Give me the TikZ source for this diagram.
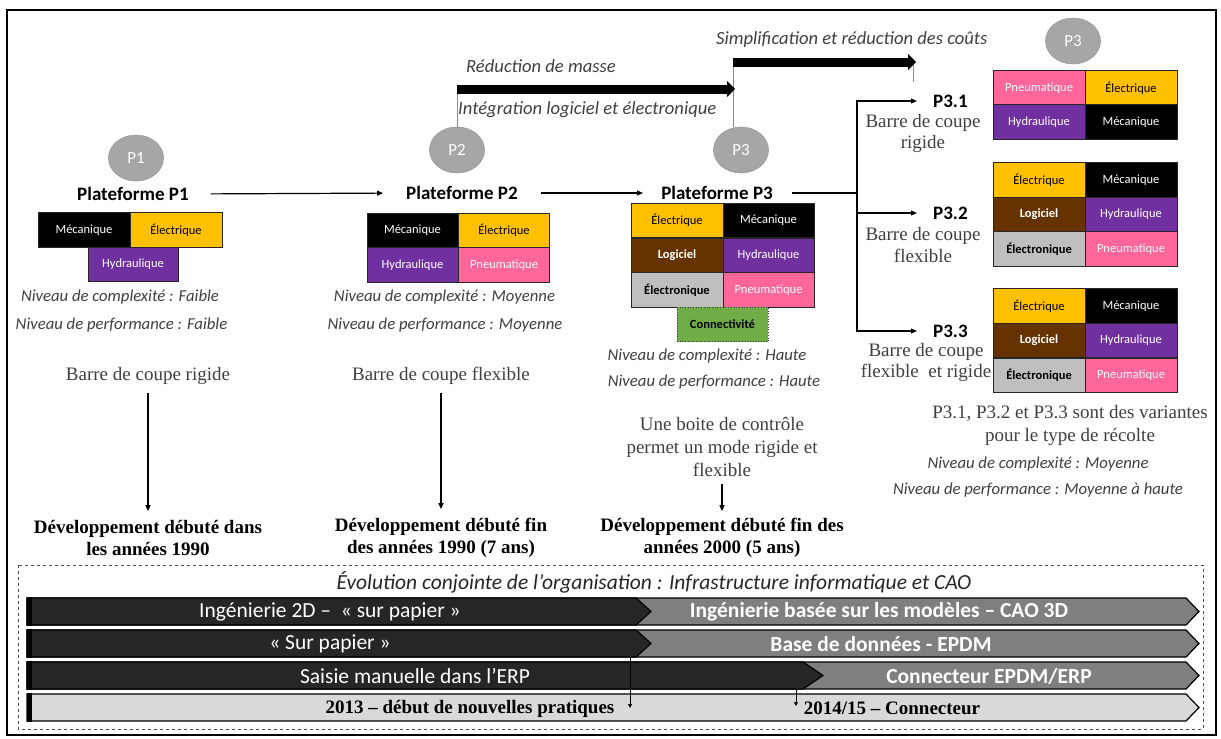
\documentclass[tikz,border=0pt]{standalone}
\usepackage{fontspec}
\setmainfont{Liberation Serif}
\newfontfamily\calib{Carlito}
\usetikzlibrary{arrows.meta,shapes.geometric}
\definecolor{elec}{HTML}{FFC000}
\definecolor{hydr}{HTML}{7030A0}
\definecolor{pneu}{HTML}{FF6699}
\definecolor{logi}{HTML}{663300}
\definecolor{elon}{HTML}{BFBFBF}
\definecolor{conn}{HTML}{70AD47}
\definecolor{ell}{HTML}{A6A6A6}
\definecolor{txtg}{HTML}{404040}
\definecolor{bardark}{HTML}{262626}
\definecolor{bargray}{HTML}{7F7F7F}
\definecolor{barlight}{HTML}{D9D9D9}
\newcommand\fs[2]{\fontsize{#1}{#2}\selectfont}
\begin{document}
\begin{tikzpicture}[x=1pt,y=-1pt,
  cell/.style={draw=black!85,line width=0.7pt,minimum width=92pt,minimum height=34.5pt,inner sep=0pt,font=\calib\fs{12.5}{15}},
  mec/.style={cell,fill=black,text=white},
  ele/.style={cell,fill=elec,text=black},
  hyd/.style={cell,fill=hydr,text=white},
  pne/.style={cell,fill=pneu,text=white},
  lgc/.style={cell,fill=logi,text=white,font=\calib\bfseries\fs{12.5}{15}},
  elo/.style={cell,fill=elon,text=black,font=\calib\bfseries\fs{12.5}{15}},
  cnx/.style={cell,fill=conn,draw=black!80,dotted,line width=1pt,text=black,font=\calib\bfseries\fs{12.5}{15}},
  pell/.style={ellipse,fill=ell,draw=black!40,line width=0.6pt,minimum width=55pt,minimum height=46pt,inner sep=0pt,text=white,font=\calib\fs{17}{20}},
  plat/.style={inner sep=0pt,font=\calib\bfseries\fs{19}{22}},
  niv/.style={inner sep=0pt,text=txtg,font=\calib\itshape\fs{16.7}{19}},
  rom/.style={inner sep=0pt,text=txtg,align=center,font=\fs{19}{21.5}},
  rom23/.style={inner sep=0pt,text=txtg,align=center,font=\fs{19}{23}},
  dev/.style={inner sep=0pt,align=center,font=\bfseries\fs{19}{22}},
  arr/.style={line width=1.2pt,-{Triangle[length=6pt,width=5pt]}},
  fatarrow/.style={line width=9pt,-{Triangle[length=8pt,width=16pt]}},
  guide/.style={draw=black!45,line width=0.8pt},
  lab/.style={inner sep=0pt,anchor=west,text=txtg,font=\calib\itshape\fs{18.6}{21}},
  bartxt/.style={inner sep=0pt,text=white,font=\calib\fs{21.5}{24}},
  bartxtb/.style={inner sep=0pt,text=white,font=\calib\bfseries\fs{21.5}{24}},
  bar4txt/.style={inner sep=0pt,text=black,font=\bfseries\fs{19}{22}},
  barline/.style={draw=black,line width=1.2pt}
]
\useasboundingbox (0,0) rectangle (1221,739);
\fill[white] (0,0) rectangle (1221,739);
\draw[line width=1.6pt] (7,10) rectangle (1216,735);

% ---------- top thick arrows ----------
\coordinate (ta1) at (457,89);
\coordinate (ta2) at (735,89);
\coordinate (tb1) at (733,62);
\coordinate (tb2) at (916,62);
\coordinate (tc) at (913,82);
\coordinate (tcb) at (913,62);
\node[lab] (lred) at (466,66) {Réduction de masse};
\node[lab] (lint) at (458,110) {Intégration logiciel et électronique};
\node[lab] (lsim) at (716,40) {Simplification et réduction des coûts};

% ---------- ellipses ----------
\node[pell] (e1) at (136,158) {P1};
\node[pell] (e2) at (457,150) {P2};
\node[pell] (e3) at (741,150) {P3};
\node[pell] (e4) at (1073,41) {P3};

\draw[guide] (e2.north) -- (ta1);
\draw[guide] (tb1 |- e3.north) -- (tb1);
\draw[guide] (tcb) -- (tc);
\draw[fatarrow] (ta1) -- (ta2);
\draw[fatarrow] (tb1) -- (tb2);

% ---------- platforms ----------
\node[plat] (pf1) at (133,194) {Plateforme P1};
\node[plat] (pf2) at (462,193) {Plateforme P2};
\node[plat] (pf3) at (717,193) {Plateforme P3};
\draw[arr,shorten <=22pt,shorten >=23pt] (pf1.east) -- (pf2.west);
\draw[arr,shorten <=23pt,shorten >=18pt] (pf2.east) -- (pf3.west);

% P1 cells
\node[mec] (c11) at (84,230) {Mécanique};
\node[ele] (c12) at (176,230) {Électrique};
\node[hyd,minimum width=90pt] (c13) at (133,264.5) {Hydraulique};
% P2 cells
\node[mec,minimum width=91pt] (c21) at (412.5,230.5) {Mécanique};
\node[ele,minimum width=91pt] (c22) at (504,230.5) {Électrique};
\node[hyd,minimum width=91pt] (c23) at (412.5,265) {Hydraulique};
\node[pne,minimum width=91pt] (c24) at (504,265) {Pneumatique};
% P3 cells
\node[ele] (c31) at (677,220.5) {Électrique};
\node[mec,minimum width=91pt] (c32) at (768.5,220.5) {Mécanique};
\node[lgc] (c33) at (677,255.5) {Logiciel};
\node[hyd,minimum width=91pt] (c34) at (768.5,255.5) {Hydraulique};
\node[elo] (c35) at (677,290) {Électronique};
\node[pne,minimum width=91pt] (c36) at (768.5,290) {Pneumatique};
\node[cnx,minimum width=91pt] (c37) at (722.5,324.5) {Connectivité};

% Niveau texts
\node[niv] (n11) at (120,297) {Niveau de complexité : Faible};
\node[niv] (n12) at (121.5,325) {Niveau de performance : Faible};
\node[niv] (n21) at (444.5,297) {Niveau de complexité : Moyenne};
\node[niv] (n22) at (445,325) {Niveau de performance : Moyenne};
\node[niv] (n31) at (707,356) {Niveau de complexité : Haute};
\node[niv] (n32) at (714,382) {Niveau de performance : Haute};

% Barre texts and developments
\node[rom] (b1) at (148,376) {Barre de coupe rigide};
\node[rom] (b2) at (441,376) {Barre de coupe flexible};
\node[rom23] (b3) at (722,447) {Une boite de contrôle\\permet un mode rigide et\\flexible};
\node[dev] (d1) at (148,538) {Développement débuté dans\\les années 1990};
\node[dev] (d2) at (441,538) {Développement débuté fin\\des années 1990 (7 ans)};
\node[dev] (d3) at (722,538) {Développement débuté fin des\\années 2000 (5 ans)};
\draw[arr,shorten <=8pt,shorten >=9pt] (b1.south) -- (d1.north);
\draw[arr,shorten <=8pt,shorten >=9pt] (b2.south) -- (d2.north);
\draw[arr,shorten <=7pt,shorten >=7pt] (b3.south) -- (d3.north);

% ---------- P3 variants ----------
\node[plat,anchor=west] (p31) at (933,101) {P3.1};
\node[plat,anchor=west] (p32) at (933,213) {P3.2};
\node[plat,anchor=west] (p33) at (933,331) {P3.3};
\node[rom] (r31) at (923,133.5) {Barre de coupe\\rigide};
\node[rom] (r32) at (923,245) {Barre de coupe\\flexible};
\node[rom] (r33) at (926,362.5) {Barre de coupe\\flexible\ \ et rigide};
\coordinate (br) at (857,193);
\draw[line width=1.2pt,shorten <=19pt] (pf3.east) -- (br);
\draw[arr,shorten >=16pt] (br) |- (p31.west);
\draw[arr,shorten >=16pt] (br) |- (p32.west);
\draw[arr,shorten >=16pt] (br) |- (p33.west);

% right cells P3.1
\node[pne] (v11) at (1039,88) {Pneumatique};
\node[ele] (v12) at (1131,88) {Électrique};
\node[hyd] (v13) at (1039,122) {Hydraulique};
\node[mec] (v14) at (1131,122) {Mécanique};
% P3.2
\node[ele] (v21) at (1039,180) {Électrique};
\node[mec] (v22) at (1131,180) {Mécanique};
\node[lgc] (v23) at (1039,214.5) {Logiciel};
\node[hyd] (v24) at (1131,214.5) {Hydraulique};
\node[elo] (v25) at (1039,249) {Électronique};
\node[pne] (v26) at (1131,249) {Pneumatique};
% P3.3
\node[ele] (v31) at (1039,306) {Électrique};
\node[mec] (v32) at (1131,306) {Mécanique};
\node[lgc] (v33) at (1039,340.5) {Logiciel};
\node[hyd] (v34) at (1131,340.5) {Hydraulique};
\node[elo] (v35) at (1039,375.5) {Électronique};
\node[pne] (v36) at (1131,375.5) {Pneumatique};

\node[rom23] (var) at (1070,425.5) {P3.1, P3.2 et P3.3 sont des variantes\\pour le type de récolte};
\node[niv] (n41) at (1038,464) {Niveau de complexité : Moyenne};
\node[niv] (n42) at (1038,490) {Niveau de performance : Moyenne à haute};

% ---------- bottom evolution box ----------
\draw[dashed,draw=black!70,line width=0.8pt] (18,565) rectangle (1203,729);
\node[inner sep=0pt,text=black!85,font=\calib\itshape\fs{21.5}{24}] (evo) at (654,582) {Évolution conjointe de l’organisation : Infrastructure informatique et CAO};

% bar 1
\filldraw[fill=bargray,barline] (27,598) -- (1186,598) -- (1199,611.5) -- (1186,625) -- (27,625) -- cycle;
\filldraw[fill=bardark,barline] (27,598) -- (636,598) -- (651,611.5) -- (636,625) -- (27,625) -- cycle;
\fill[black] (27,597.4) rectangle (32,625.6);
% bar 2
\filldraw[fill=bargray,barline] (27,630) -- (1186,630) -- (1199,643.5) -- (1186,657) -- (27,657) -- cycle;
\filldraw[fill=bardark,barline] (27,630) -- (636,630) -- (651,643.5) -- (636,657) -- (27,657) -- cycle;
\fill[black] (27,629.4) rectangle (32,657.6);
% bar 3
\filldraw[fill=bargray,barline] (27,662) -- (1186,662) -- (1199,675.5) -- (1186,689) -- (27,689) -- cycle;
\filldraw[fill=bardark,barline] (27,662) -- (803,662) -- (823,675.5) -- (803,689) -- (27,689) -- cycle;
\fill[black] (27,661.4) rectangle (32,689.6);
% bar 4
\filldraw[fill=barlight,barline] (27,694) -- (1186,694) -- (1199,707.5) -- (1186,721) -- (27,721) -- cycle;
\fill[black] (27,693.4) rectangle (32,721.6);

\node[bartxt] (t11) at (330,612) {Ingénierie 2D –\ \ « sur papier »};
\node[bartxtb] (t12) at (879,612) {Ingénierie basée sur les modèles – CAO 3D};
\node[bartxt] (t21) at (330,644) {« Sur papier »};
\node[bartxtb] (t22) at (881,644) {Base de données - EPDM};
\node[bartxt] (t31) at (415,676) {Saisie manuelle dans l’ERP};
\node[bartxtb] (t32) at (989,676) {Connecteur EPDM/ERP};
\node[bar4txt] (t41) at (470,708.5) {2013 – début de nouvelles pratiques};
\node[bar4txt] (t42) at (892,708.5) {2014/15 – Connecteur};

\coordinate (s1a) at (630,657);
\coordinate (s1b) at (630,708);
\coordinate (s2a) at (796,689);
\coordinate (s2b) at (796,706);
\draw[line width=0.7pt,-{Triangle[length=4pt,width=4pt]}] (s1a) -- (s1b);
\draw[line width=0.7pt,-{Triangle[length=4pt,width=4pt]}] (s2a) -- (s2b);
\end{tikzpicture}
\end{document}
